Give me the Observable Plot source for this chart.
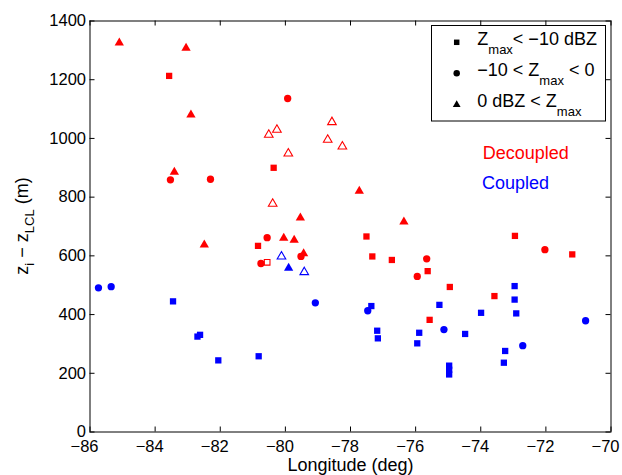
<!DOCTYPE html>
<html>
<head>
<meta charset="utf-8">
<script src="https://cdn.jsdelivr.net/npm/d3@7"></script>
<script src="https://cdn.jsdelivr.net/npm/@observablehq/plot@0.6"></script>
<style>
html, body { margin: 0; padding: 0; background: #fff; overflow: hidden; }
#chart svg { display: block; }
</style>
</head>
<body>
<div id="chart"></div>
<script>
// ---- tick values ----
const xTicks = [-86, -84, -82, -80, -78, -76, -74, -72, -70];
const yTicks = [0, 200, 400, 600, 800, 1000, 1200, 1400];

// ---- Decoupled cases (red): [longitude, zi - zLCL] ----
const decoupledSquares = [
  [-83.57, 1213], [-80.36, 900], [-80.84, 634], [-77.51, 666], [-77.33, 598],
  [-76.73, 586], [-75.63, 548], [-74.95, 494], [-75.57, 382], [-73.58, 463],
  [-72.95, 668], [-71.19, 605]
];
const decoupledOpenSquares = [[-80.56, 578]];
const decoupledCircles = [
  [-79.93, 1136], [-83.53, 859], [-82.30, 861], [-80.56, 662], [-80.75, 574],
  [-79.52, 598], [-75.66, 590], [-75.95, 530], [-72.03, 621]
];
const decoupledTriangles = [
  [-85.10, 1330], [-83.05, 1312], [-82.90, 1085], [-83.41, 890], [-82.49, 642],
  [-77.73, 825], [-79.54, 734], [-76.36, 720], [-80.05, 665], [-79.73, 658],
  [-79.44, 612]
];
const decoupledOpenTriangles = [
  [-80.51, 1017], [-80.26, 1034], [-78.57, 1060], [-78.70, 1000], [-78.25, 977],
  [-79.91, 953], [-80.39, 782]
];

// ---- Coupled cases (blue) ----
const coupledSquares = [
  [-83.45, 445], [-82.70, 325], [-82.62, 331], [-82.06, 244], [-80.82, 258],
  [-77.36, 429], [-77.18, 345], [-77.16, 319], [-75.89, 338], [-75.95, 302],
  [-75.27, 433], [-74.97, 226], [-74.97, 212], [-74.97, 196], [-74.48, 334],
  [-73.99, 406], [-72.96, 497], [-72.96, 451], [-72.91, 404], [-73.25, 276],
  [-73.29, 236]
];
const coupledCircles = [
  [-85.74, 491], [-85.35, 495], [-79.08, 440], [-77.47, 413], [-75.13, 349],
  [-72.71, 294], [-70.78, 379]
];
const coupledTriangles = [[-79.90, 563]];
const coupledOpenTriangles = [[-80.12, 602], [-79.42, 549]];

// ---- annotations ----
const groupLabels = ["Decoupled", "Coupled"];
const groupLabelLon = [-73.94, -73.96];
const groupLabelZ = [931, 828];

const RED = "#ff0000", BLUE = "#0000ff";
const FONT = "'Liberation Sans', Arial, Helvetica, sans-serif";
const W = 622, H = 475, mL = 89.5, mR = 11.5, mT = 20.5, mB = 43.5;
const plotW = W - mL - mR, plotH = H - mT - mB;
const TICK = 5;

const rows = a => a.map(([lon, z]) => ({lon, z}));
function dots(arr, symbol, color, r, filled, dy = 0) {
  return Plot.dot(rows(arr), {
    x: "lon", y: "z", symbol, r, dy,
    fill: filled ? color : "none",
    stroke: filled ? "none" : color,
    strokeWidth: filled ? 0 : 1.1
  });
}
const minusFmt = d => String(d).replace("-", "\u2212");

const chart = Plot.plot({
  width: W, height: H,
  marginLeft: mL, marginRight: mR, marginTop: mT, marginBottom: mB,
  style: {fontFamily: FONT, fontSize: "16.5px", background: "white", color: "black", overflow: "visible"},
  x: {domain: [-86, -70]},
  y: {domain: [0, 1400]},
  marks: [
    Plot.frame({stroke: "black", strokeWidth: 1}),
    Plot.axisX(xTicks, {tickSize: 0, tickPadding: 8.5, dx: -5.5, label: null, tickFormat: minusFmt}),
    Plot.axisY(yTicks, {tickSize: 0, tickPadding: 4, label: null, tickFormat: minusFmt}),
    Plot.tickX(xTicks, {x: d => d, insetTop: plotH - TICK, stroke: "black"}),
    Plot.tickX(xTicks, {x: d => d, insetBottom: plotH - TICK, stroke: "black"}),
    Plot.tickY(yTicks, {y: d => d, insetRight: plotW - TICK, stroke: "black"}),
    Plot.tickY(yTicks, {y: d => d, insetLeft: plotW - TICK, stroke: "black"}),

    dots(decoupledSquares, "square", RED, 3.55, true),
    dots(decoupledOpenSquares, "square", RED, 3.2, false),
    dots(decoupledCircles, "circle", RED, 3.65, true),
    dots(decoupledTriangles, "triangle", RED, 3.45, true, 1.3),
    dots(decoupledOpenTriangles, "triangle", RED, 3.2, false, 1.3),
    dots(coupledSquares, "square", BLUE, 3.55, true),
    dots(coupledCircles, "circle", BLUE, 3.65, true),
    dots(coupledTriangles, "triangle", BLUE, 3.45, true, 1.3),
    dots(coupledOpenTriangles, "triangle", BLUE, 3.2, false, 1.3),

    Plot.text([groupLabels[0]], {x: () => groupLabelLon[0], y: () => groupLabelZ[0], text: d => d,
      fill: RED, textAnchor: "start", lineAnchor: "bottom", fontSize: 18}),
    Plot.text([groupLabels[1]], {x: () => groupLabelLon[1], y: () => groupLabelZ[1], text: d => d,
      fill: BLUE, textAnchor: "start", lineAnchor: "bottom", fontSize: 18}),

    Plot.text(["Longitude (deg)"], {frameAnchor: "bottom", dy: 38.5, lineAnchor: "bottom",
      fontSize: 18, fill: "black"})
  ]
});
document.getElementById("chart").appendChild(chart);

// ---- y-axis label with subscripts ----
const svg = d3.select(chart);
const yl = svg.append("text")
  .attr("transform", `translate(27.5, ${mT + plotH / 2}) rotate(-90)`)
  .attr("text-anchor", "middle")
  .attr("font-family", FONT)
  .attr("font-size", 18)
  .attr("fill", "black");
yl.append("tspan").text("z");
yl.append("tspan").attr("font-size", 13).attr("dy", 6).text("i");
yl.append("tspan").attr("dy", -6).text(" \u2212 z");
yl.append("tspan").attr("font-size", 13).attr("dy", 6).text("LCL");
yl.append("tspan").attr("dy", -6).text(" (m)");

// ---- legend ----
const lg = svg.append("g").attr("font-family", FONT).attr("fill", "black").attr("text-anchor", "start");
lg.append("rect").attr("x", 431.5).attr("y", 25.5).attr("width", 174).attr("height", 95.5)
  .attr("fill", "white").attr("stroke", "black").attr("stroke-width", 1);
const legendSymbols = [
  {type: d3.symbolSquare, size: 30, cy: 42.3},
  {type: d3.symbolCircle, size: 33, cy: 73.3},
  {type: d3.symbolTriangle, size: 26, cy: 104.8}
];
legendSymbols.forEach(s => {
  lg.append("path").attr("d", d3.symbol().type(s.type).size(s.size)())
    .attr("transform", `translate(456.7, ${s.cy})`).attr("fill", "black");
});
const legendRows = [
  {y: 45, parts: [["Z", 0], ["max", 1], ["< \u221210 dBZ", 0]]},
  {y: 76, parts: [["\u221210 < Z", 0], ["max", 1], [" < 0", 0]]},
  {y: 107, parts: [["0 dBZ < Z", 0], ["max", 1]]}
];
legendRows.forEach(r => {
  const t = lg.append("text").attr("x", 477.3).attr("y", r.y).attr("font-size", 18)
    .attr("text-anchor", "start").style("white-space", "pre");
  let prevSub = 0;
  r.parts.forEach(([txt, sub]) => {
    const sp = t.append("tspan").text(txt);
    if (sub !== prevSub) sp.attr("dy", sub ? 9 : -9);
    if (sub) sp.attr("font-size", 13);
    prevSub = sub;
  });
});
</script>
</body>
</html>
